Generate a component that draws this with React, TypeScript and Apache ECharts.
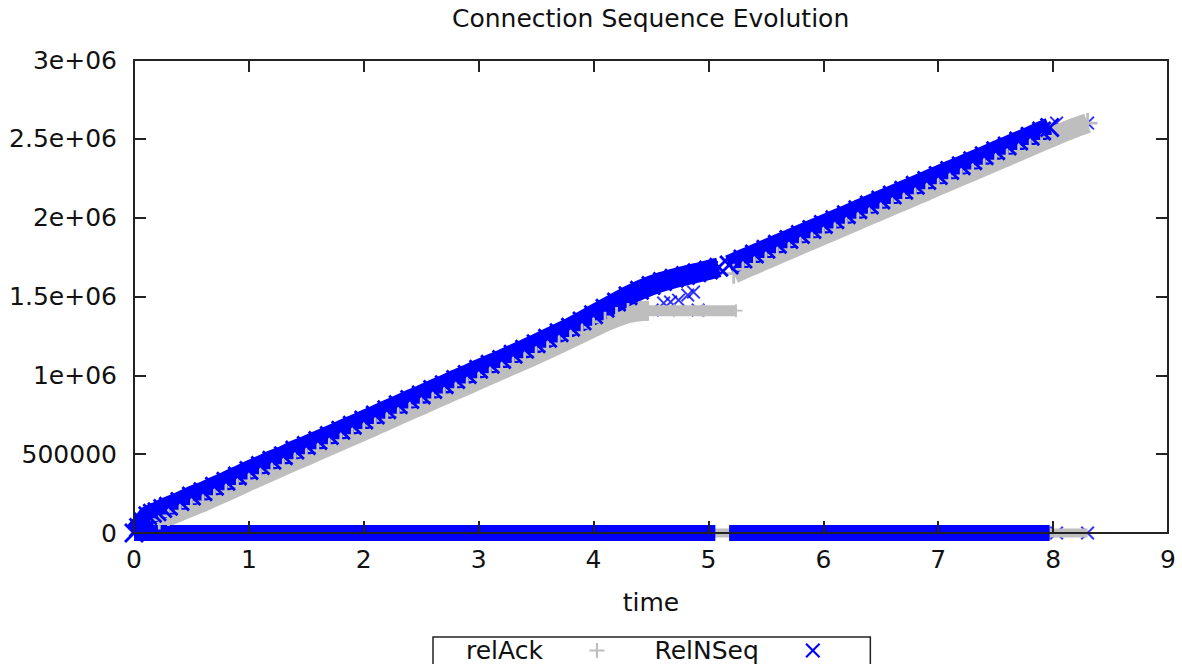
import React, { useEffect, useRef } from 'react';
import * as echarts from 'echarts';

// ---------- texts ----------
const TITLE = 'Connection Sequence Evolution';
const X_NAME = 'time';
const SERIES_ACK = 'relAck';
const SERIES_SEQ = 'RelNSeq';
const Y_TICK_LABELS = ['0', '500000', '1e+06', '1.5e+06', '2e+06', '2.5e+06', '3e+06'];
const Y_STEP = 500000;
const X_MIN = 0;
const X_MAX = 9;
const Y_MAX = 3000000;
const M = 1e6; // values below are in millions

// ---------- data: [time (s), relative sequence (millions)] ----------
const relAckRise: number[][] = [
  [0.22, 0.085], [0.3, 0.108], [0.4, 0.138], [0.5, 0.168], [0.6, 0.197], [0.7, 0.23],
  [0.8, 0.263], [0.9, 0.296], [1.0, 0.33], [1.1, 0.363], [1.2, 0.395], [1.3, 0.427],
  [1.4, 0.459], [1.5, 0.49], [1.6, 0.522], [1.7, 0.554], [1.8, 0.586], [1.9, 0.618],
  [2.0, 0.65], [2.1, 0.682], [2.2, 0.715], [2.3, 0.748], [2.4, 0.78], [2.5, 0.811],
  [2.6, 0.844], [2.7, 0.876], [2.8, 0.909], [2.9, 0.94], [3.0, 0.973], [3.1, 1.005],
  [3.2, 1.037], [3.3, 1.069], [3.4, 1.1], [3.5, 1.133], [3.6, 1.166], [3.7, 1.2],
  [3.8, 1.235], [3.9, 1.27], [4.0, 1.305], [4.1, 1.34], [4.2, 1.37], [4.3, 1.395],
  [4.4, 1.407], [4.47, 1.41],
];
const relAckFlat: number[][] = [[4.47, 1.41], [4.7, 1.41], [4.95, 1.41], [5.24, 1.41]];
const relAckLate: number[][] = [
  [5.22, 1.645], [5.3, 1.672], [5.4, 1.703], [5.5, 1.735], [5.6, 1.766], [5.7, 1.797],
  [5.8, 1.829], [5.9, 1.86], [6.0, 1.891], [6.1, 1.922], [6.2, 1.953], [6.3, 1.985],
  [6.4, 2.016], [6.5, 2.047], [6.6, 2.078], [6.7, 2.109], [6.8, 2.14], [6.9, 2.171],
  [7.0, 2.203], [7.1, 2.234], [7.2, 2.265], [7.3, 2.296], [7.4, 2.327], [7.5, 2.359],
  [7.6, 2.39], [7.7, 2.421], [7.8, 2.452], [7.9, 2.484], [8.0, 2.515], [8.1, 2.546],
  [8.2, 2.574], [8.3, 2.6],
];
const relAckZero: number[][] = [[0, 0], [8.3, 0]];

const relNSeqRise: number[][] = [
  [0, 0], [0.04, 0.035], [0.08, 0.07], [0.12, 0.11], [0.16, 0.125], [0.2, 0.135],
  [0.25, 0.155], [0.3, 0.17], [0.4, 0.2], [0.5, 0.235], [0.6, 0.262], [0.7, 0.296],
  [0.8, 0.328], [0.9, 0.362], [1.0, 0.397], [1.1, 0.428], [1.2, 0.462], [1.3, 0.49],
  [1.4, 0.526], [1.5, 0.555], [1.6, 0.587], [1.7, 0.618], [1.8, 0.652], [1.9, 0.683],
  [2.0, 0.716], [2.1, 0.748], [2.2, 0.781], [2.3, 0.813], [2.4, 0.846], [2.5, 0.876],
  [2.6, 0.91], [2.7, 0.94], [2.8, 0.974], [2.9, 1.005], [3.0, 1.039], [3.1, 1.07],
  [3.2, 1.101], [3.3, 1.134], [3.4, 1.166], [3.5, 1.2], [3.6, 1.235], [3.7, 1.27],
  [3.8, 1.305], [3.9, 1.345], [4.0, 1.385], [4.1, 1.425], [4.2, 1.465], [4.3, 1.505],
  [4.4, 1.54], [4.5, 1.57], [4.6, 1.595], [4.7, 1.615], [4.8, 1.633], [4.9, 1.65],
  [5.0, 1.668], [5.09, 1.685],
];
const relNSeqLate: number[][] = [
  [5.18, 1.7], [5.3, 1.738], [5.4, 1.769], [5.5, 1.8], [5.6, 1.831], [5.7, 1.862],
  [5.8, 1.894], [5.9, 1.925], [6.0, 1.956], [6.1, 1.987], [6.2, 2.018], [6.3, 2.05],
  [6.4, 2.081], [6.5, 2.112], [6.6, 2.143], [6.7, 2.174], [6.8, 2.205], [6.9, 2.236],
  [7.0, 2.268], [7.1, 2.299], [7.2, 2.33], [7.3, 2.361], [7.4, 2.392], [7.5, 2.424],
  [7.6, 2.455], [7.7, 2.486], [7.8, 2.517], [7.9, 2.55], [7.97, 2.572],
];
const relNSeqZeroA: number[][] = [[0, 0], [5.06, 0]];
const relNSeqZeroB: number[][] = [[5.18, 0], [7.97, 0]];
const relNSeqIsolated: number[][] = [
  [4.51, 1.414], [4.61, 1.458], [4.67, 1.465], [4.74, 1.477], [4.82, 1.509],
  [4.87, 1.528], [4.91, 1.414], [8.03, 2.6], [8.3, 2.6], [8.03, 0], [8.3, 0],
];

// ---------- styles ----------
const FONT = 'DejaVu Sans';
const GREY = '#bebebe';
const BLUE = '#0000ff';
const FRAME = '#222222';
const TEXT = '#111111';
const X_ICON = 'path://M0,1 L1,0 L5,4 L9,0 L10,1 L6,5 L10,9 L9,10 L5,6 L1,10 L0,9 L4,5 Z';
const PLUS_ICON =
  'path://M4.3,0 L5.7,0 L5.7,4.3 L10,4.3 L10,5.7 L5.7,5.7 L5.7,10 L4.3,10 L4.3,5.7 L0,5.7 L0,4.3 L4.3,4.3 Z';

const toPts = (arr: number[][]) => arr.map(([t, v]) => [t, v * M]);

function band(name: string, data: number[][], color: string, width: number, symbol: string | null, symbolSize: number) {
  return {
    type: 'line',
    name,
    data: toPts(data),
    clip: false,
    silent: true,
    animation: false,
    emphasis: { disabled: true },
    lineStyle: { color, width },
    itemStyle: { color, borderWidth: 0 },
    symbol: symbol || 'none',
    showSymbol: !!symbol,
    symbolSize,
    xAxisIndex: 0,
    yAxisIndex: 0,
  };
}

const frameAxisLine = { show: true, onZero: false, lineStyle: { color: FRAME, width: 2 } };
const frameTick = { show: true, inside: true, length: 12, lineStyle: { color: FRAME, width: 2 } };

const option: any = {
  animation: false,
  backgroundColor: '#ffffff',
  title: {
    text: TITLE,
    left: 452,
    top: 6,
    padding: 0,
    textStyle: { fontFamily: FONT, fontSize: 25, fontWeight: 'normal', color: TEXT },
  },
  grid: { left: 134, right: 14, top: 60, bottom: 131, containLabel: false },
  legend: {
    left: 433,
    top: 637,
    align: 'right',
    orient: 'horizontal',
    selectedMode: false,
    itemWidth: 98,
    itemHeight: 15,
    itemGap: 50,
    padding: [1, 50, 4, 33],
    borderColor: FRAME,
    borderWidth: 1.5,
    textStyle: { fontFamily: FONT, fontSize: 25, color: TEXT },
    data: [
      { name: SERIES_ACK, icon: PLUS_ICON, itemStyle: { color: GREY, borderWidth: 0 } },
      { name: SERIES_SEQ, icon: X_ICON, itemStyle: { color: BLUE, borderWidth: 0 } },
    ],
  },
  xAxis: [
    {
      type: 'value',
      min: X_MIN,
      max: X_MAX,
      interval: 1,
      position: 'bottom',
      z: 10,
      axisLine: frameAxisLine,
      axisTick: frameTick,
      splitLine: { show: false },
      axisLabel: { fontFamily: FONT, fontSize: 25, color: TEXT, margin: 14 },
      name: X_NAME,
      nameLocation: 'middle',
      nameGap: 57,
      nameTextStyle: { fontFamily: FONT, fontSize: 25, color: TEXT },
    },
    {
      type: 'value',
      min: X_MIN,
      max: X_MAX,
      interval: 1,
      position: 'top',
      z: 10,
      axisLine: frameAxisLine,
      axisTick: frameTick,
      splitLine: { show: false },
      axisLabel: { show: false },
    },
  ],
  yAxis: [
    {
      type: 'value',
      min: 0,
      max: Y_MAX,
      interval: Y_STEP,
      position: 'left',
      z: 10,
      axisLine: frameAxisLine,
      axisTick: frameTick,
      splitLine: { show: false },
      axisLabel: {
        fontFamily: FONT,
        fontSize: 25,
        color: TEXT,
        margin: 17,
        formatter: (v: number) => Y_TICK_LABELS[Math.round(v / Y_STEP)] ?? String(v),
      },
    },
    {
      type: 'value',
      min: 0,
      max: Y_MAX,
      interval: Y_STEP,
      position: 'right',
      z: 10,
      axisLine: frameAxisLine,
      axisTick: frameTick,
      splitLine: { show: false },
      axisLabel: { show: false },
    },
  ],
  series: [
    band(SERIES_ACK, relAckRise, GREY, 20, PLUS_ICON, 20),
    band(SERIES_ACK, relAckFlat, GREY, 11, PLUS_ICON, 13),
    band(SERIES_ACK, relAckLate, GREY, 20, PLUS_ICON, 20),
    band(SERIES_ACK, relAckZero, GREY, 9, null, 0),
    band(SERIES_SEQ, relNSeqRise, BLUE, 20, X_ICON, 20),
    band(SERIES_SEQ, relNSeqLate, BLUE, 20, X_ICON, 20),
    band(SERIES_SEQ, relNSeqZeroA, BLUE, 16, null, 0),
    band(SERIES_SEQ, relNSeqZeroB, BLUE, 16, null, 0),
    {
      type: 'scatter',
      name: SERIES_SEQ,
      data: toPts(relNSeqIsolated),
      clip: false,
      silent: true,
      emphasis: { disabled: true },
      symbol: X_ICON,
      symbolSize: 14,
      itemStyle: { color: BLUE, borderWidth: 0 },
    },
  ],
};

export default function App() {
  const ref = useRef<HTMLDivElement>(null);
  useEffect(() => {
    if (!ref.current) return;
    const chart = echarts.init(ref.current, undefined, { renderer: 'svg' });
    chart.setOption(option);
    return () => chart.dispose();
  }, []);
  return (
    <div
      ref={ref}
      style={{ position: 'fixed', left: 0, top: 0, width: 1182, height: 664, background: '#fff' }}
    />
  );
}
